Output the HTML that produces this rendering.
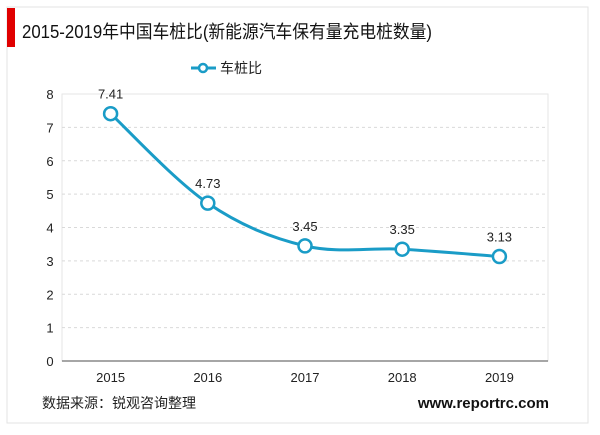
<!DOCTYPE html>
<html><head><meta charset="utf-8"><style>
body{margin:0;background:#fff;font-family:"Liberation Sans","Noto Sans CJK SC",sans-serif;}
svg text{font-family:"Liberation Sans","Noto Sans CJK SC",sans-serif;}
</style></head><body>
<svg id="c" width="600" height="430" xmlns="http://www.w3.org/2000/svg">
<rect x="7" y="7" width="581" height="416" fill="#fff" stroke="#e3e3e3"/>
<rect x="7" y="8" width="8" height="39" fill="#e00000"/>
<text x="22" y="38" font-size="18" fill="#111" textLength="410" lengthAdjust="spacingAndGlyphs">2015-2019年中国车桩比(新能源汽车保有量充电桩数量)</text>
<g>
<line x1="191" y1="68" x2="216" y2="68" stroke="#1a9cc7" stroke-width="3"/>
<circle cx="203" cy="68" r="4" fill="#fff" stroke="#1a9cc7" stroke-width="2.5"/>
<text x="220" y="73" font-size="14" fill="#222">车桩比</text>
</g>
<g id="grid"></g><g id="series"></g>
<text x="42" y="408" font-size="14" fill="#222">数据来源：锐观咨询整理</text>
<text x="549" y="408" font-size="15" font-weight="bold" fill="#111" text-anchor="end">www.reportrc.com</text>
</svg>
<script>
const categories=["2015","2016","2017","2018","2019"];
const values=[7.41,4.73,3.45,3.35,3.13];
const yTicks=[0,1,2,3,4,5,6,7,8];
const NS="http://www.w3.org/2000/svg";
const L=62,R=548,T=94,B=361;
const x=i=>L+(R-L)/categories.length*(i+0.5);
const y=v=>B-(v/8)*(B-T);
function mk(t,a,p){const e=document.createElementNS(NS,t);for(const k in a)e.setAttribute(k,a[k]);p.appendChild(e);return e;}
const g=document.getElementById('grid'),s=document.getElementById('series');
const pb=mk('rect',{x:L,y:T,width:R-L,height:B-T,fill:'none',stroke:'#e6e6e6'},g);


yTicks.forEach(v=>{
 if(v>0&&v<8){const l=mk('line',{x1:L,x2:R,y1:y(v),y2:y(v),stroke:'#d9d9d9','stroke-dasharray':'3,3'},g);
 
 }
 const t=mk('text',{x:50,y:y(v)+5,'font-size':13,'text-anchor':'middle',fill:'#222'},g);t.textContent=v;
 
 
});
const ax=mk('line',{x1:L,x2:R,y1:B,y2:B,stroke:'#888','stroke-width':1.5},g);


categories.forEach((c,i)=>{const t=mk('text',{x:x(i),y:382,'font-size':13,'text-anchor':'middle',fill:'#222'},g);t.textContent=c;
 
 });
const P=values.map((v,i)=>[x(i),y(v)]);
let d=`M${P[0][0]},${P[0][1]}`;
for(let i=0;i<P.length-1;i++){const p0=P[i-1]||P[i],p1=P[i],p2=P[i+1],p3=P[i+2]||p2,k=0.17;
 d+=` C${p1[0]+(p2[0]-p0[0])*k},${p1[1]+(p2[1]-p0[1])*k} ${p2[0]-(p3[0]-p1[0])*k},${p2[1]-(p3[1]-p1[1])*k} ${p2[0]},${p2[1]}`;}
const ln=mk('path',{d,fill:'none',stroke:'#1a9cc7','stroke-width':3},s);


values.forEach((v,i)=>{
 const c=mk('circle',{cx:x(i),cy:y(v),r:6.5,fill:'#fff',stroke:'#1a9cc7','stroke-width':2.5},s);
 
 
 const t=mk('text',{x:x(i),y:y(v)-15,'font-size':13,'text-anchor':'middle',fill:'#222'},s);t.textContent=v.toFixed(2);
 
 
});
</script>
</body></html>
